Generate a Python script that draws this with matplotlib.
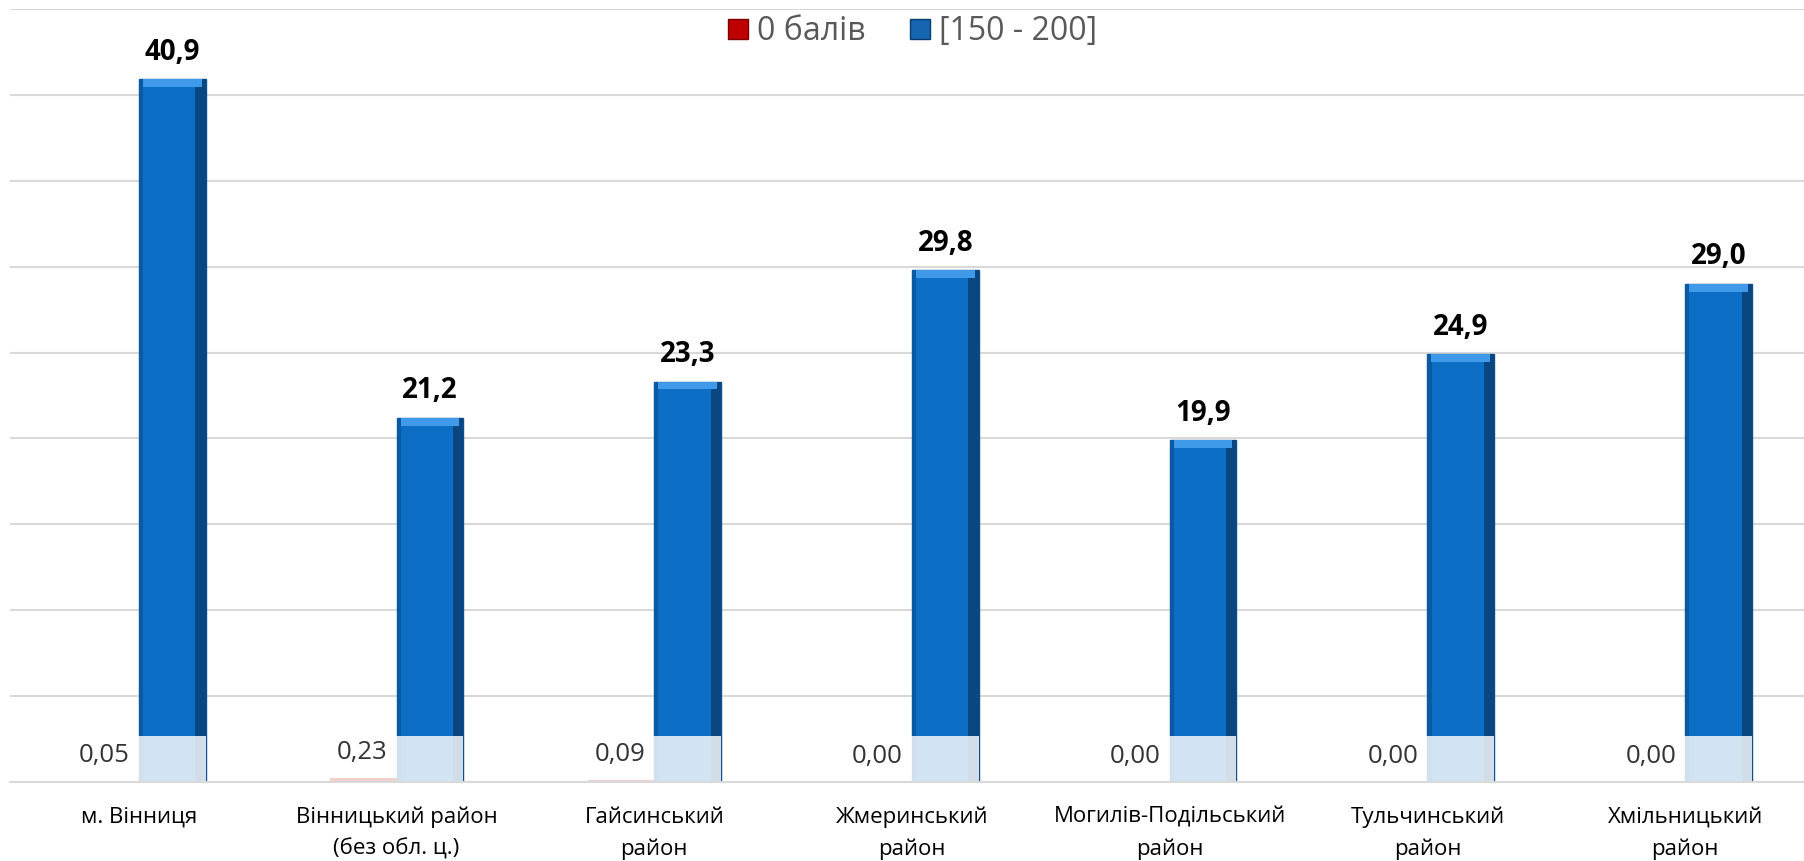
import matplotlib
matplotlib.use("Agg")
import matplotlib.pyplot as plt
from matplotlib.patches import Patch
import numpy as np

plt.rcParams["font.family"] = ["Open Sans", "DejaVu Sans"]

categories = ["м. Вінниця", "Вінницький район\n(без обл. ц.)", "Гайсинський\nрайон",
              "Жмеринський\nрайон", "Могилів-Подільський\nрайон", "Тульчинський\nрайон",
              "Хмільницький\nрайон"]
zero_scores = [0.05, 0.23, 0.09, 0.00, 0.00, 0.00, 0.00]
top_scores = [40.9, 21.2, 23.3, 29.8, 19.9, 24.9, 29.0]
series_names = ["0 балів", "[150 - 200]"]

RED = "#c00000"
BLUE = "#0d6ec6"

fig = plt.figure(figsize=(18.04, 8.61), dpi=100)
ax = fig.add_axes([10 / 1804, 0.0918, 1794 / 1804, 0.8977])

x = np.arange(len(categories))
w = 0.259
ax.bar(x - w / 2, zero_scores, width=w, color=RED, zorder=2)
ax.bar(x + w / 2, top_scores, width=w, color=BLUE, edgecolor="#0a4f8f",
       lw=1.0, zorder=2)
# bevel look: dark side strips and light top band
ax.bar(x + w - 0.02, top_scores, width=0.04, color="#0a4680", zorder=2.1)
ax.bar(x + 0.008, top_scores, width=0.016, color="#0a5aa3", zorder=2.1)
ax.bar(x + w / 2, [0.45] * len(x), bottom=np.array(top_scores) - 0.45,
       width=w * 0.88, color="#3f9be9", zorder=2.2)

# pale reflection at bar bottoms
ax.bar(x, [2.7] * len(x), width=2 * w, color="white", alpha=0.82, zorder=3)

for i in x:
    ax.annotate(f"{top_scores[i]:.1f}".replace(".", ","), (i + w / 2, top_scores[i]),
                xytext=(0, 14), textcoords="offset points", ha="center",
                va="baseline", fontsize=20, fontweight="bold", color="black")
    ax.text(i - 0.035, zero_scores[i] + 1.5, f"{zero_scores[i]:.2f}".replace(".", ","),
            ha="right", va="center", fontsize=18.5, color="#333333", zorder=4)

ax.set_xlim(-0.5, 6.461)
ax.set_ylim(0, 45)
ax.set_yticks(np.arange(0, 46, 5))
ax.yaxis.grid(True, color="#d9d9d9", lw=1.5)
ax.set_axisbelow(True)
ax.tick_params(axis="y", left=False, labelleft=False)
ax.tick_params(axis="x", length=0, pad=18)
ax.set_xticks(x)
ax.set_xticklabels(categories, fontsize=16, color="black", linespacing=1.62)
for s in ["left", "right", "top"]:
    ax.spines[s].set_visible(False)
ax.spines["bottom"].set_color("#d9d9d9")
ax.spines["bottom"].set_linewidth(1.5)
ax.spines["bottom"].set_zorder(5)

handles = [Patch(facecolor=RED, edgecolor="#7a0000"),
           Patch(facecolor="#1565b0", edgecolor="#0a3d6b")]
fig.legend(handles, series_names, loc="center", bbox_to_anchor=(0.506, 0.963),
           ncol=2, frameon=False, fontsize=23, handlelength=0.6, handleheight=0.6,
           handletextpad=0.3, columnspacing=1.4, labelcolor="#595959")

fig.savefig("out.png", dpi=100)
